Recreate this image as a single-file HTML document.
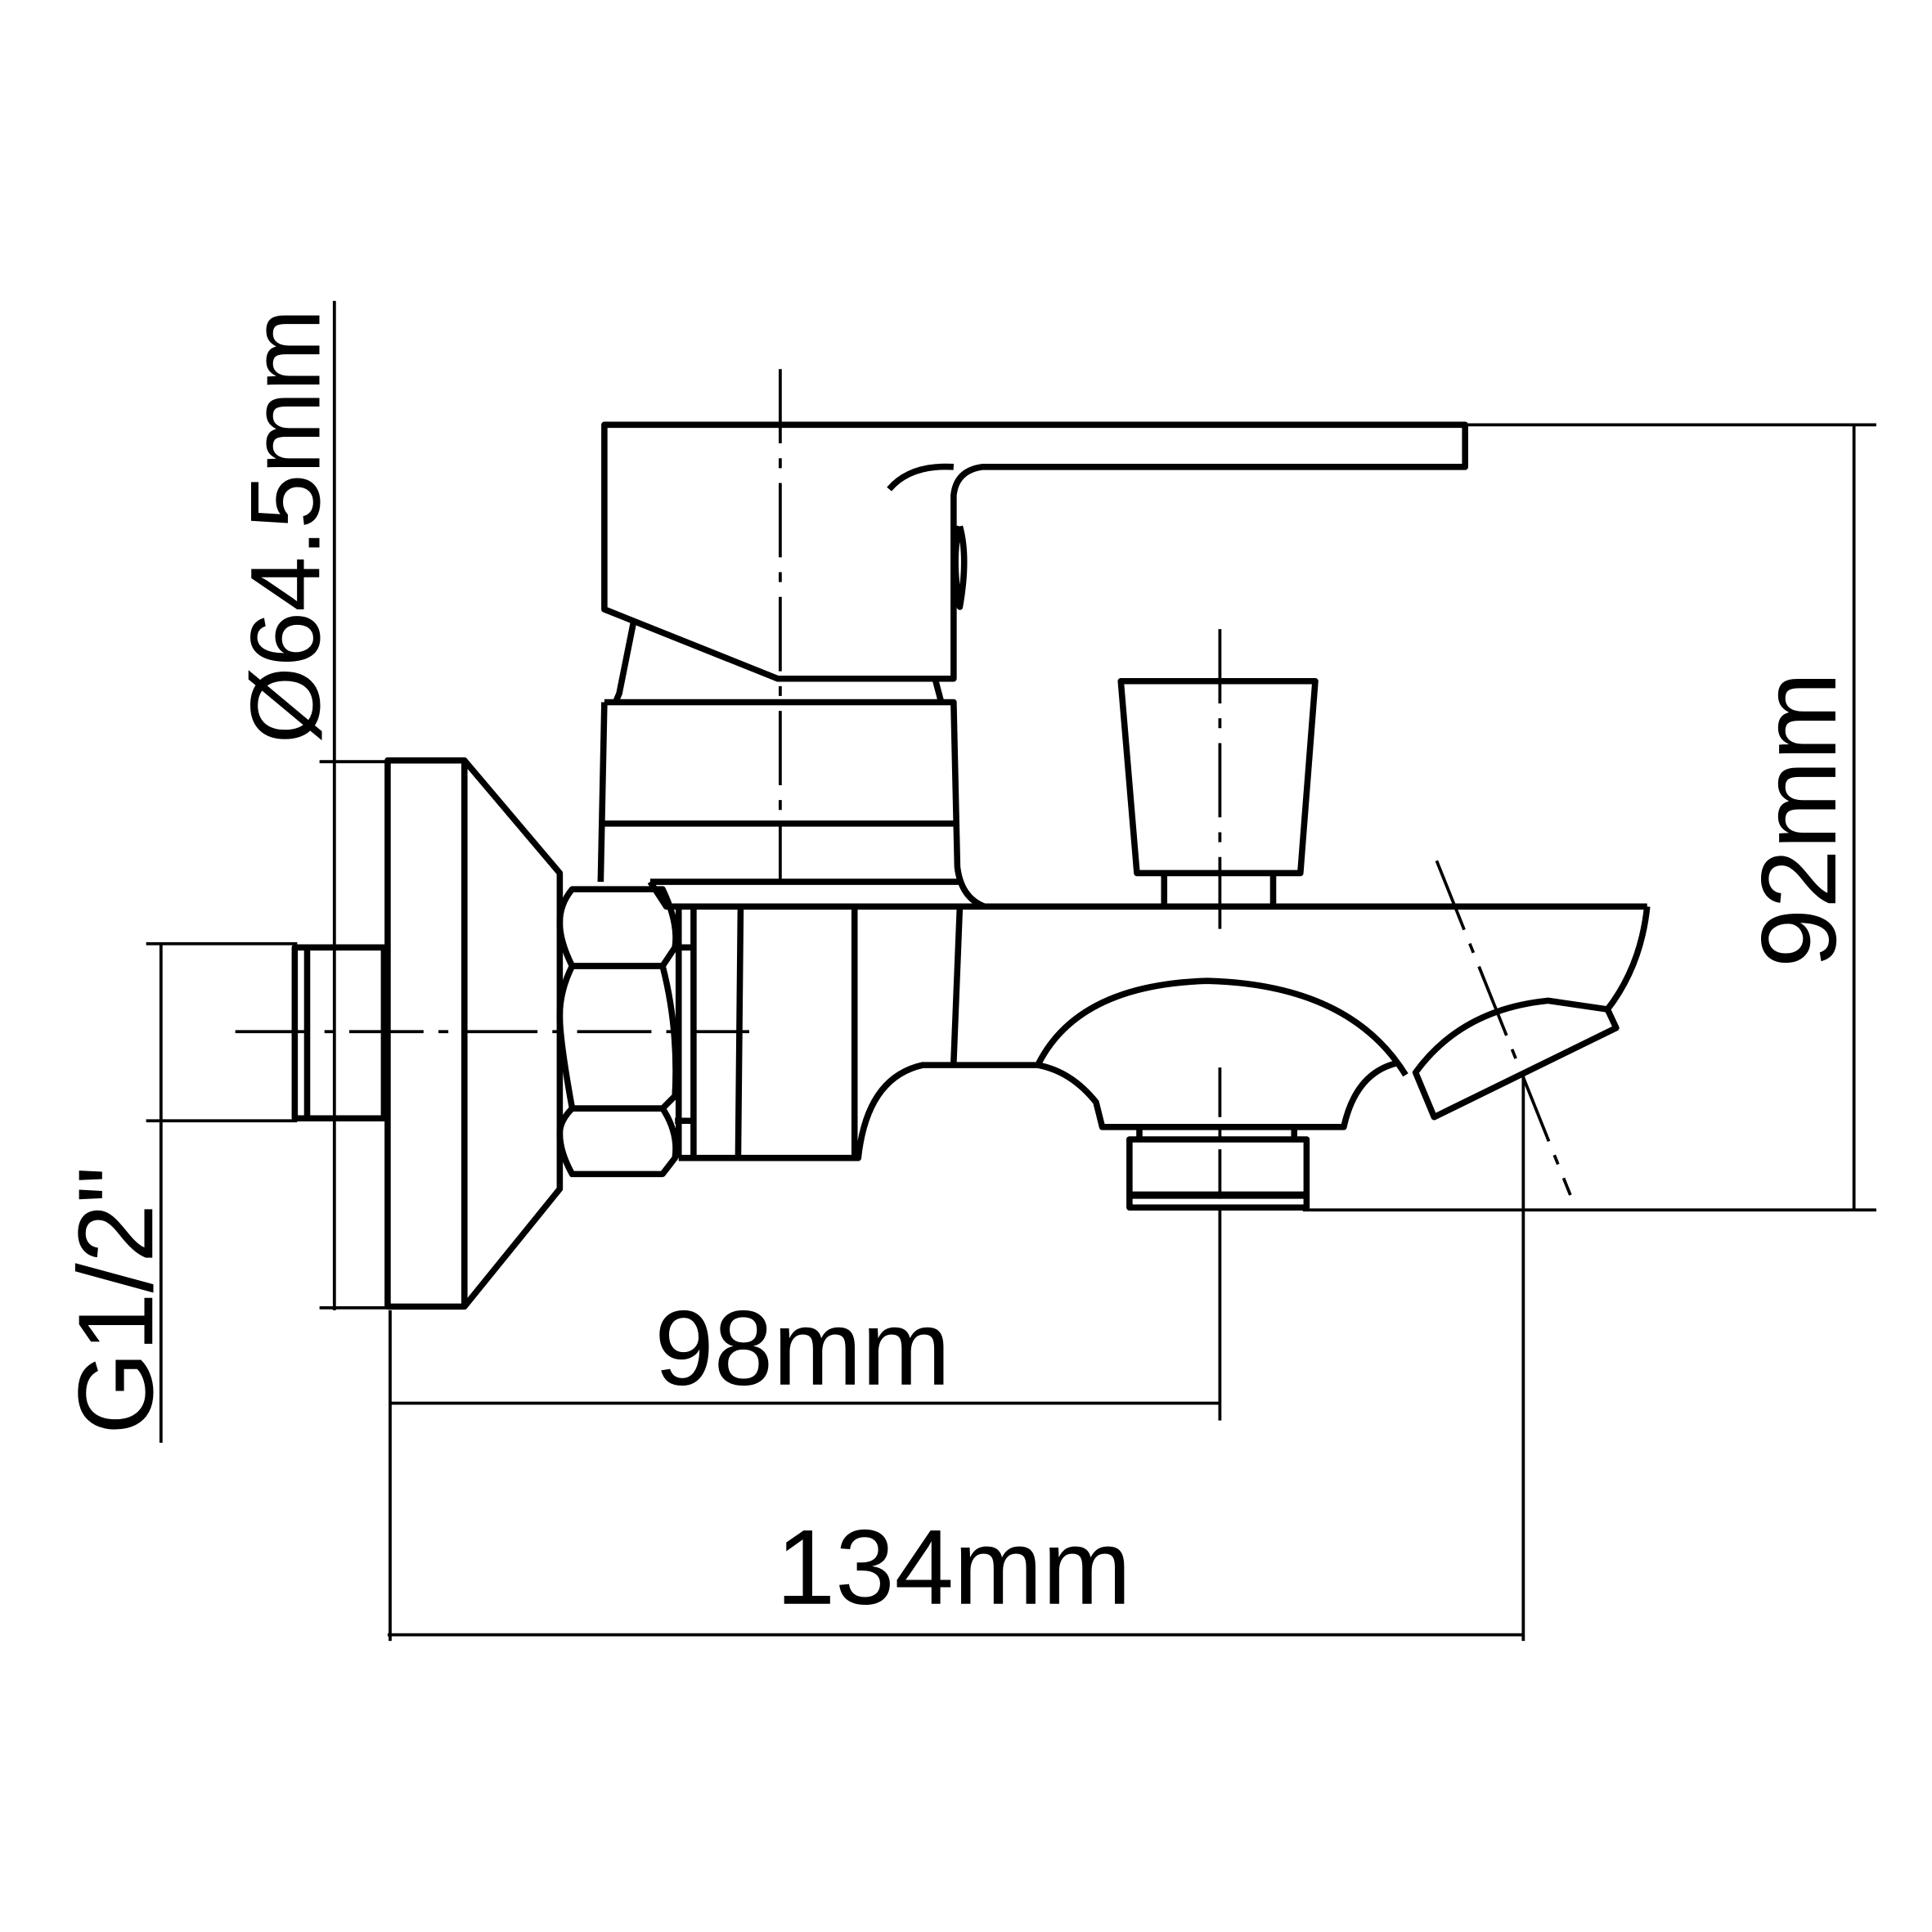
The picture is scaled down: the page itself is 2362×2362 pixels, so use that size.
<!DOCTYPE html>
<html><head><style>html,body{margin:0;padding:0;background:#fff}svg{display:block}</style></head>
<body>
<svg width="2362" height="2362" viewBox="0 0 1560 1560" xmlns="http://www.w3.org/2000/svg">
<g fill="none" stroke="#000" stroke-width="5" stroke-linejoin="round">
<!-- left dims -->
<g stroke-width="2.5">
<line x1="270" y1="243" x2="270" y2="1058"/>
<line x1="258" y1="615" x2="312" y2="615"/>
<line x1="258" y1="1056" x2="312" y2="1056"/>
<line x1="130" y1="762" x2="130" y2="1165"/>
<line x1="118" y1="762" x2="240" y2="762"/>
<line x1="118" y1="905" x2="240" y2="905"/>
<!-- bottom dims -->
<line x1="315" y1="1058" x2="315" y2="1325"/>
<line x1="315" y1="1133" x2="985" y2="1133"/>
<line x1="985" y1="975" x2="985" y2="1147"/>
<line x1="313" y1="1320" x2="1230" y2="1320"/>
<line x1="1230" y1="868" x2="1230" y2="1325"/>
<!-- right dim -->
<line x1="1497" y1="343" x2="1497" y2="977"/>
<line x1="1185" y1="343" x2="1515" y2="343"/>
<line x1="1052" y1="977" x2="1515" y2="977"/>
<!-- centerlines -->
<line x1="190" y1="833" x2="605" y2="833" stroke-dasharray="60 12 8 12"/>
<line x1="630" y1="298" x2="630" y2="712" stroke-dasharray="60 12 8 12"/>
<line x1="985" y1="508" x2="985" y2="750" stroke-dasharray="60 12 8 12"/>
<line x1="985" y1="862" x2="985" y2="975" stroke-dasharray="40 10 6 10"/>
<line x1="1160" y1="695" x2="1268" y2="965" stroke-dasharray="60 12 8 12"/>
</g>
<!-- pipe -->
<rect x="238" y="765" width="72" height="138"/>
<line x1="248" y1="765" x2="248" y2="903"/>
<!-- flange -->
<rect x="313" y="614" width="62" height="441"/>
<polyline points="375,614 452,705 452,960 375,1055"/>
<!-- hex nut -->
<path d="M462,718 L535,718 Q548,745 545,765 L535,780 L462,780 Q452,760 452,745 Q452,730 462,718 Z"/>
<path d="M462,780 L535,780 Q548,830 545,885 L535,895 L462,895 Q452,840 452,820 Q452,800 462,780 Z"/>
<path d="M462,895 L535,895 Q548,915 545,935 L535,948 L462,948 Q452,930 452,915 Q452,905 462,895 Z"/>
<line x1="545" y1="765" x2="560" y2="765"/><line x1="545" y1="905" x2="560" y2="905"/>
<!-- body internal -->
<line x1="548" y1="732" x2="548" y2="935"/>
<line x1="560" y1="732" x2="560" y2="935"/>
<line x1="598" y1="732" x2="596" y2="935"/>
<line x1="690" y1="732" x2="690" y2="935"/>
<line x1="775" y1="732" x2="770" y2="858"/>
<path d="M525,712 L775,712 M525,712 L538,732 L1330,732"/>
<path d="M548,935 L693,935 Q700,870 745,860 L838,860 Q865,865 885,890 L890,910 L1085,910 Q1095,865 1130,858"/>
<path d="M838,860 Q870,795 975,792 Q1090,795 1135,868"/>
<path d="M1330,732 Q1325,780 1298,815 L1305,830 L1158,902 L1143,866 Q1180,815 1250,808 L1298,815"/>
<!-- diverter -->
<line x1="920" y1="910" x2="920" y2="920"/><line x1="1045" y1="910" x2="1045" y2="920"/>
<rect x="912" y="920" width="143" height="55"/>
<line x1="912" y1="965" x2="1055" y2="965" stroke-width="6"/>
<!-- knob -->
<polygon points="905,550 1062,550 1050,705 918,705"/>
<line x1="940" y1="705" x2="940" y2="732"/><line x1="1028" y1="705" x2="1028" y2="732"/>
<!-- cartridge -->
<path d="M488,567 L770,567 L773,700 Q776,725 795,732"/>
<line x1="488" y1="567" x2="485" y2="712"/>
<line x1="488" y1="665" x2="772" y2="665"/>
<path d="M512,500 L500,560 L497,567"/>
<path d="M628,548 L755,548 L760,567"/>
<!-- lever -->
<path d="M488,343 L1183,343 L1183,377 L793,377 Q772,380 770,400 L770,548 L628,548 L488,492 Z"/>
<path d="M718,395 Q735,375 770,377"/>
<path d="M775,425 Q768,450 775,490 Q782,450 775,425"/>
</g>
<g font-family="Liberation Sans, sans-serif" font-size="86" fill="#000">
<text x="648" y="1118" text-anchor="middle">98mm</text>
<text x="770" y="1295" text-anchor="middle">134mm</text>
<text transform="translate(258,425) rotate(-90)" text-anchor="middle" font-size="80">Ø64.5mm</text>
<text transform="translate(123,1050) rotate(-90)" text-anchor="middle">G1/2"</text>
<text transform="translate(1482,662) rotate(-90)" text-anchor="middle">92mm</text>
</g>
</svg>
</body></html>
